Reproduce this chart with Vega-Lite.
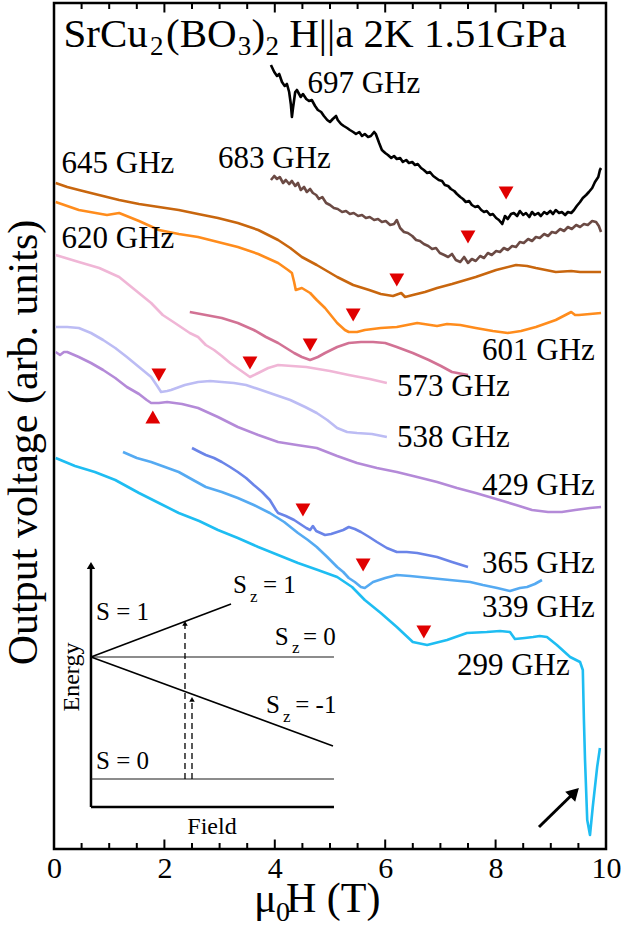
{
  "$schema": "https://vega.github.io/schema/vega-lite/v6.json",
  "width": 552,
  "height": 846,
  "autosize": {"type": "none"},
  "padding": {"left": 54, "top": 3, "right": 16, "bottom": 81},
  "background": "white",
  "config": {
    "view": {"stroke": "black", "strokeWidth": 2.5},
    "font": "Liberation Serif",
    "axis": {"grid": false, "domain": false}
  },
  "datasets": {
    "spec": [
      {"f":"697","B":3.93,"V":78.4},{"f":"697","B":3.99,"V":77.7},{"f":"697","B":4.04,"V":77.3},{"f":"697","B":4.08,"V":77.5},{"f":"697","B":4.13,"V":76.7},{"f":"697","B":4.18,"V":76.3},{"f":"697","B":4.22,"V":76.5},{"f":"697","B":4.26,"V":75.7},{"f":"697","B":4.29,"V":74.5},{"f":"697","B":4.31,"V":73.2},{"f":"697","B":4.33,"V":74.1},{"f":"697","B":4.37,"V":75.7},{"f":"697","B":4.40,"V":75.9},{"f":"697","B":4.44,"V":75.5},{"f":"697","B":4.47,"V":75.2},{"f":"697","B":4.51,"V":75.5},{"f":"697","B":4.57,"V":75.0},{"f":"697","B":4.62,"V":74.8},{"f":"697","B":4.67,"V":74.9},{"f":"697","B":4.73,"V":74.3},{"f":"697","B":4.78,"V":73.9},{"f":"697","B":4.84,"V":73.7},{"f":"697","B":4.89,"V":73.3},{"f":"697","B":4.95,"V":72.9},{"f":"697","B":5.00,"V":72.7},{"f":"697","B":5.05,"V":73.0},{"f":"697","B":5.11,"V":73.3},{"f":"697","B":5.14,"V":72.9},{"f":"697","B":5.20,"V":72.5},{"f":"697","B":5.25,"V":72.3},{"f":"697","B":5.31,"V":72.1},{"f":"697","B":5.36,"V":71.9},{"f":"697","B":5.42,"V":71.7},{"f":"697","B":5.47,"V":71.5},{"f":"697","B":5.53,"V":71.7},{"f":"697","B":5.58,"V":71.3},{"f":"697","B":5.63,"V":71.5},{"f":"697","B":5.69,"V":71.2},{"f":"697","B":5.74,"V":71.3},{"f":"697","B":5.80,"V":71.7},{"f":"697","B":5.83,"V":71.5},{"f":"697","B":5.89,"V":70.6},{"f":"697","B":5.94,"V":69.9},{"f":"697","B":6.00,"V":69.6},{"f":"697","B":6.05,"V":69.4},{"f":"697","B":6.11,"V":69.1},{"f":"697","B":6.16,"V":69.3},{"f":"697","B":6.21,"V":69.0},{"f":"697","B":6.27,"V":69.1},{"f":"697","B":6.32,"V":68.7},{"f":"697","B":6.38,"V":68.9},{"f":"697","B":6.43,"V":68.6},{"f":"697","B":6.49,"V":68.7},{"f":"697","B":6.54,"V":68.4},{"f":"697","B":6.59,"V":68.5},{"f":"697","B":6.65,"V":68.1},{"f":"697","B":6.70,"V":67.9},{"f":"697","B":6.76,"V":67.6},{"f":"697","B":6.81,"V":67.7},{"f":"697","B":6.87,"V":67.3},{"f":"697","B":6.92,"V":67.1},{"f":"697","B":6.97,"V":66.9},{"f":"697","B":7.03,"V":66.8},{"f":"697","B":7.08,"V":66.4},{"f":"697","B":7.14,"V":66.3},{"f":"697","B":7.19,"V":66.0},{"f":"697","B":7.25,"V":65.8},{"f":"697","B":7.30,"V":65.5},{"f":"697","B":7.36,"V":65.2},{"f":"697","B":7.41,"V":65.0},{"f":"697","B":7.46,"V":64.7},{"f":"697","B":7.52,"V":64.8},{"f":"697","B":7.57,"V":64.4},{"f":"697","B":7.63,"V":64.2},{"f":"697","B":7.68,"V":64.3},{"f":"697","B":7.74,"V":63.9},{"f":"697","B":7.79,"V":63.7},{"f":"697","B":7.84,"V":63.8},{"f":"697","B":7.90,"V":63.4},{"f":"697","B":7.95,"V":63.5},{"f":"697","B":8.01,"V":63.1},{"f":"697","B":8.06,"V":62.9},{"f":"697","B":8.12,"V":62.5},{"f":"697","B":8.17,"V":63.3},{"f":"697","B":8.22,"V":63.0},{"f":"697","B":8.28,"V":63.5},{"f":"697","B":8.33,"V":63.6},{"f":"697","B":8.39,"V":63.3},{"f":"697","B":8.44,"V":63.8},{"f":"697","B":8.50,"V":63.4},{"f":"697","B":8.55,"V":63.6},{"f":"697","B":8.61,"V":63.2},{"f":"697","B":8.66,"V":63.7},{"f":"697","B":8.71,"V":63.4},{"f":"697","B":8.77,"V":63.6},{"f":"697","B":8.82,"V":63.3},{"f":"697","B":8.88,"V":63.7},{"f":"697","B":8.93,"V":63.5},{"f":"697","B":8.99,"V":63.8},{"f":"697","B":9.04,"V":63.5},{"f":"697","B":9.09,"V":63.9},{"f":"697","B":9.15,"V":63.6},{"f":"697","B":9.20,"V":63.7},{"f":"697","B":9.26,"V":63.4},{"f":"697","B":9.31,"V":63.7},{"f":"697","B":9.37,"V":63.6},{"f":"697","B":9.42,"V":63.9},{"f":"697","B":9.47,"V":64.3},{"f":"697","B":9.53,"V":64.7},{"f":"697","B":9.58,"V":65.1},{"f":"697","B":9.64,"V":65.4},{"f":"697","B":9.69,"V":65.7},{"f":"697","B":9.75,"V":66.1},{"f":"697","B":9.80,"V":66.7},{"f":"697","B":9.86,"V":67.2},{"f":"697","B":9.89,"V":67.9},{"f":"697","B":9.91,"V":68.1},

      {"f":"683","B":3.93,"V":66.9},{"f":"683","B":3.99,"V":67.3},{"f":"683","B":4.04,"V":67.0},{"f":"683","B":4.09,"V":67.2},{"f":"683","B":4.15,"V":66.6},{"f":"683","B":4.20,"V":66.9},{"f":"683","B":4.26,"V":66.5},{"f":"683","B":4.31,"V":66.8},{"f":"683","B":4.37,"V":66.3},{"f":"683","B":4.42,"V":66.6},{"f":"683","B":4.47,"V":65.9},{"f":"683","B":4.53,"V":66.2},{"f":"683","B":4.58,"V":65.7},{"f":"683","B":4.64,"V":66.0},{"f":"683","B":4.69,"V":65.6},{"f":"683","B":4.75,"V":65.4},{"f":"683","B":4.80,"V":65.0},{"f":"683","B":4.86,"V":65.2},{"f":"683","B":4.93,"V":64.6},{"f":"683","B":5.00,"V":64.4},{"f":"683","B":5.07,"V":64.1},{"f":"683","B":5.14,"V":64.0},{"f":"683","B":5.22,"V":63.7},{"f":"683","B":5.29,"V":63.8},{"f":"683","B":5.36,"V":63.5},{"f":"683","B":5.43,"V":63.6},{"f":"683","B":5.51,"V":63.3},{"f":"683","B":5.58,"V":63.4},{"f":"683","B":5.65,"V":63.1},{"f":"683","B":5.72,"V":63.2},{"f":"683","B":5.80,"V":62.9},{"f":"683","B":5.87,"V":63.0},{"f":"683","B":5.94,"V":62.7},{"f":"683","B":6.01,"V":62.8},{"f":"683","B":6.09,"V":62.4},{"f":"683","B":6.16,"V":62.5},{"f":"683","B":6.21,"V":62.9},{"f":"683","B":6.27,"V":62.1},{"f":"683","B":6.34,"V":61.7},{"f":"683","B":6.41,"V":61.6},{"f":"683","B":6.49,"V":61.3},{"f":"683","B":6.56,"V":60.9},{"f":"683","B":6.63,"V":60.8},{"f":"683","B":6.70,"V":60.5},{"f":"683","B":6.78,"V":60.3},{"f":"683","B":6.85,"V":60.0},{"f":"683","B":6.92,"V":60.1},{"f":"683","B":6.99,"V":59.6},{"f":"683","B":7.07,"V":59.4},{"f":"683","B":7.14,"V":59.2},{"f":"683","B":7.21,"V":59.5},{"f":"683","B":7.28,"V":58.9},{"f":"683","B":7.36,"V":58.7},{"f":"683","B":7.43,"V":59.2},{"f":"683","B":7.50,"V":58.6},{"f":"683","B":7.57,"V":59.0},{"f":"683","B":7.64,"V":58.8},{"f":"683","B":7.72,"V":59.3},{"f":"683","B":7.79,"V":59.1},{"f":"683","B":7.86,"V":59.6},{"f":"683","B":7.93,"V":59.4},{"f":"683","B":8.01,"V":59.8},{"f":"683","B":8.08,"V":59.7},{"f":"683","B":8.15,"V":60.1},{"f":"683","B":8.22,"V":59.9},{"f":"683","B":8.30,"V":60.3},{"f":"683","B":8.37,"V":60.2},{"f":"683","B":8.44,"V":60.7},{"f":"683","B":8.51,"V":60.6},{"f":"683","B":8.59,"V":61.0},{"f":"683","B":8.66,"V":60.8},{"f":"683","B":8.73,"V":61.2},{"f":"683","B":8.80,"V":61.1},{"f":"683","B":8.88,"V":61.5},{"f":"683","B":8.95,"V":61.3},{"f":"683","B":9.02,"V":61.7},{"f":"683","B":9.09,"V":61.6},{"f":"683","B":9.17,"V":62.0},{"f":"683","B":9.24,"V":61.8},{"f":"683","B":9.31,"V":62.2},{"f":"683","B":9.38,"V":62.0},{"f":"683","B":9.46,"V":62.4},{"f":"683","B":9.53,"V":62.2},{"f":"683","B":9.60,"V":62.5},{"f":"683","B":9.67,"V":62.4},{"f":"683","B":9.75,"V":62.8},{"f":"683","B":9.82,"V":62.7},{"f":"683","B":9.87,"V":62.3},{"f":"683","B":9.91,"V":61.7},

      {"f":"645","B":0.03,"V":66.6},{"f":"645","B":0.24,"V":66.2},{"f":"645","B":0.45,"V":65.9},{"f":"645","B":0.74,"V":65.5},{"f":"645","B":1.18,"V":64.9},{"f":"645","B":1.54,"V":64.5},{"f":"645","B":1.90,"V":64.2},{"f":"645","B":2.26,"V":63.9},{"f":"645","B":2.61,"V":63.5},{"f":"645","B":2.97,"V":63.1},{"f":"645","B":3.33,"V":62.6},{"f":"645","B":3.70,"V":61.9},{"f":"645","B":4.06,"V":60.9},{"f":"645","B":4.28,"V":60.1},{"f":"645","B":4.49,"V":59.2},{"f":"645","B":4.76,"V":58.4},{"f":"645","B":5.13,"V":57.2},{"f":"645","B":5.42,"V":56.4},{"f":"645","B":5.71,"V":55.9},{"f":"645","B":5.92,"V":55.5},{"f":"645","B":6.14,"V":55.3},{"f":"645","B":6.29,"V":55.6},{"f":"645","B":6.36,"V":55.2},{"f":"645","B":6.50,"V":55.4},{"f":"645","B":6.72,"V":55.7},{"f":"645","B":6.94,"V":56.1},{"f":"645","B":7.21,"V":56.5},{"f":"645","B":7.64,"V":57.2},{"f":"645","B":8.01,"V":57.9},{"f":"645","B":8.37,"V":58.4},{"f":"645","B":8.57,"V":58.3},{"f":"645","B":8.73,"V":58.1},{"f":"645","B":9.09,"V":57.7},{"f":"645","B":9.37,"V":57.8},{"f":"645","B":9.53,"V":57.7},{"f":"645","B":9.91,"V":57.7},

      {"f":"620","B":0.03,"V":64.7},{"f":"620","B":0.45,"V":63.9},{"f":"620","B":0.96,"V":63.4},{"f":"620","B":1.18,"V":63.6},{"f":"620","B":1.54,"V":62.8},{"f":"620","B":1.90,"V":61.9},{"f":"620","B":2.26,"V":61.5},{"f":"620","B":2.61,"V":61.2},{"f":"620","B":2.97,"V":60.7},{"f":"620","B":3.33,"V":60.2},{"f":"620","B":3.70,"V":59.5},{"f":"620","B":4.06,"V":58.6},{"f":"620","B":4.24,"V":57.9},{"f":"620","B":4.31,"V":57.6},{"f":"620","B":4.35,"V":56.7},{"f":"620","B":4.38,"V":55.9},{"f":"620","B":4.49,"V":56.1},{"f":"620","B":4.64,"V":55.6},{"f":"620","B":4.76,"V":54.9},{"f":"620","B":4.91,"V":54.1},{"f":"620","B":5.13,"V":52.6},{"f":"620","B":5.27,"V":51.9},{"f":"620","B":5.34,"V":51.7},{"f":"620","B":5.49,"V":51.7},{"f":"620","B":5.63,"V":51.9},{"f":"620","B":5.92,"V":52.1},{"f":"620","B":6.21,"V":52.2},{"f":"620","B":6.58,"V":52.6},{"f":"620","B":6.94,"V":52.3},{"f":"620","B":7.12,"V":52.5},{"f":"620","B":7.36,"V":52.4},{"f":"620","B":7.64,"V":52.1},{"f":"620","B":7.95,"V":51.8},{"f":"620","B":8.22,"V":51.6},{"f":"620","B":8.46,"V":51.8},{"f":"620","B":8.73,"V":52.2},{"f":"620","B":9.09,"V":52.9},{"f":"620","B":9.37,"V":53.7},{"f":"620","B":9.44,"V":53.4},{"f":"620","B":9.51,"V":53.4},{"f":"620","B":9.71,"V":53.5},{"f":"620","B":9.91,"V":53.6},

      {"f":"601","B":2.46,"V":53.7},{"f":"601","B":2.75,"V":53.4},{"f":"601","B":3.04,"V":53.1},{"f":"601","B":3.33,"V":52.6},{"f":"601","B":3.62,"V":51.9},{"f":"601","B":3.84,"V":51.2},{"f":"601","B":4.06,"V":50.6},{"f":"601","B":4.35,"V":49.6},{"f":"601","B":4.49,"V":49.2},{"f":"601","B":4.64,"V":48.9},{"f":"601","B":4.78,"V":49.2},{"f":"601","B":4.91,"V":49.6},{"f":"601","B":5.13,"V":50.2},{"f":"601","B":5.34,"V":50.6},{"f":"601","B":5.56,"V":50.7},{"f":"601","B":5.78,"V":50.7},{"f":"601","B":6.00,"V":50.6},{"f":"601","B":6.21,"V":50.2},{"f":"601","B":6.50,"V":49.6},{"f":"601","B":6.79,"V":48.9},{"f":"601","B":7.01,"V":48.3},{"f":"601","B":7.21,"V":47.7},{"f":"601","B":7.50,"V":47.4},

      {"f":"573","B":0.03,"V":59.4},{"f":"573","B":0.45,"V":58.7},{"f":"573","B":0.82,"V":58.1},{"f":"573","B":1.18,"V":57.2},{"f":"573","B":1.47,"V":55.9},{"f":"573","B":1.76,"V":54.6},{"f":"573","B":1.97,"V":53.4},{"f":"573","B":2.19,"V":52.6},{"f":"573","B":2.46,"V":51.6},{"f":"573","B":2.61,"V":51.2},{"f":"573","B":2.75,"V":50.4},{"f":"573","B":2.90,"V":49.9},{"f":"573","B":3.04,"V":49.3},{"f":"573","B":3.19,"V":48.6},{"f":"573","B":3.37,"V":47.9},{"f":"573","B":3.55,"V":47.2},{"f":"573","B":3.70,"V":47.6},{"f":"573","B":3.88,"V":48.1},{"f":"573","B":4.06,"V":48.4},{"f":"573","B":4.31,"V":48.3},{"f":"573","B":4.57,"V":48.2},{"f":"573","B":5.00,"V":47.8},{"f":"573","B":5.34,"V":47.4},{"f":"573","B":5.72,"V":47.0},{"f":"573","B":6.03,"V":46.6},

      {"f":"538","B":0.03,"V":52.2},{"f":"538","B":0.24,"V":52.2},{"f":"538","B":0.45,"V":52.1},{"f":"538","B":0.67,"V":51.6},{"f":"538","B":0.89,"V":50.9},{"f":"538","B":1.11,"V":50.1},{"f":"538","B":1.32,"V":49.2},{"f":"538","B":1.54,"V":48.2},{"f":"538","B":1.76,"V":47.2},{"f":"538","B":1.87,"V":46.3},{"f":"538","B":1.94,"V":45.7},{"f":"538","B":2.05,"V":45.8},{"f":"538","B":2.12,"V":45.9},{"f":"538","B":2.37,"V":46.4},{"f":"538","B":2.61,"V":46.7},{"f":"538","B":2.83,"V":46.8},{"f":"538","B":3.04,"V":46.7},{"f":"538","B":3.26,"V":46.6},{"f":"538","B":3.48,"V":46.4},{"f":"538","B":3.70,"V":46.0},{"f":"538","B":3.91,"V":45.6},{"f":"538","B":4.28,"V":44.9},{"f":"538","B":4.55,"V":44.2},{"f":"538","B":4.76,"V":43.6},{"f":"538","B":4.95,"V":42.9},{"f":"538","B":5.13,"V":42.1},{"f":"538","B":5.31,"V":41.7},{"f":"538","B":5.49,"V":41.6},{"f":"538","B":5.76,"V":41.5},{"f":"538","B":6.03,"V":41.2},

      {"f":"429","B":0.03,"V":49.7},{"f":"429","B":0.11,"V":49.4},{"f":"429","B":0.18,"V":49.7},{"f":"429","B":0.24,"V":49.7},{"f":"429","B":0.45,"V":49.2},{"f":"429","B":0.67,"V":48.6},{"f":"429","B":0.89,"V":47.9},{"f":"429","B":1.11,"V":47.1},{"f":"429","B":1.32,"V":46.2},{"f":"429","B":1.54,"V":45.5},{"f":"429","B":1.68,"V":44.9},{"f":"429","B":1.76,"V":44.6},{"f":"429","B":1.90,"V":44.6},{"f":"429","B":2.05,"V":44.7},{"f":"429","B":2.32,"V":44.5},{"f":"429","B":2.61,"V":44.1},{"f":"429","B":2.97,"V":43.2},{"f":"429","B":3.33,"V":42.2},{"f":"429","B":3.70,"V":41.4},{"f":"429","B":4.06,"V":40.7},{"f":"429","B":4.40,"V":40.4},{"f":"429","B":4.76,"V":40.1},{"f":"429","B":5.13,"V":39.3},{"f":"429","B":5.49,"V":38.6},{"f":"429","B":5.85,"V":38.1},{"f":"429","B":6.21,"V":37.7},{"f":"429","B":6.58,"V":37.2},{"f":"429","B":6.94,"V":36.7},{"f":"429","B":7.30,"V":36.1},{"f":"429","B":7.64,"V":35.6},{"f":"429","B":8.01,"V":35.0},{"f":"429","B":8.37,"V":34.4},{"f":"429","B":8.66,"V":33.9},{"f":"429","B":8.95,"V":33.7},{"f":"429","B":9.20,"V":33.7},{"f":"429","B":9.44,"V":33.9},{"f":"429","B":9.71,"V":34.1},{"f":"429","B":9.91,"V":34.2},

      {"f":"365","B":2.50,"V":40.1},{"f":"365","B":2.64,"V":39.7},{"f":"365","B":2.75,"V":39.4},{"f":"365","B":2.90,"V":39.1},{"f":"365","B":3.04,"V":38.7},{"f":"365","B":3.19,"V":38.2},{"f":"365","B":3.33,"V":37.7},{"f":"365","B":3.48,"V":37.1},{"f":"365","B":3.62,"V":36.4},{"f":"365","B":3.77,"V":35.7},{"f":"365","B":3.91,"V":34.9},{"f":"365","B":4.02,"V":33.9},{"f":"365","B":4.06,"V":33.6},{"f":"365","B":4.20,"V":33.3},{"f":"365","B":4.35,"V":32.9},{"f":"365","B":4.46,"V":32.5},{"f":"365","B":4.57,"V":32.1},{"f":"365","B":4.64,"V":31.9},{"f":"365","B":4.69,"V":32.3},{"f":"365","B":4.75,"V":31.8},{"f":"365","B":4.91,"V":31.4},{"f":"365","B":5.02,"V":31.5},{"f":"365","B":5.13,"V":31.7},{"f":"365","B":5.24,"V":31.9},{"f":"365","B":5.34,"V":32.2},{"f":"365","B":5.45,"V":32.0},{"f":"365","B":5.56,"V":31.7},{"f":"365","B":5.71,"V":31.2},{"f":"365","B":5.85,"V":30.7},{"f":"365","B":6.03,"V":30.1},{"f":"365","B":6.21,"V":29.7},{"f":"365","B":6.39,"V":29.7},{"f":"365","B":6.58,"V":29.6},{"f":"365","B":6.76,"V":29.4},{"f":"365","B":6.94,"V":29.2},{"f":"365","B":7.21,"V":28.7},{"f":"365","B":7.50,"V":28.2},

      {"f":"339","B":1.25,"V":39.7},{"f":"339","B":1.50,"V":39.1},{"f":"339","B":1.76,"V":38.7},{"f":"339","B":2.01,"V":38.2},{"f":"339","B":2.26,"V":37.7},{"f":"339","B":2.52,"V":36.9},{"f":"339","B":2.75,"V":36.2},{"f":"339","B":3.04,"V":35.7},{"f":"339","B":3.33,"V":35.1},{"f":"339","B":3.62,"V":34.4},{"f":"339","B":3.91,"V":33.6},{"f":"339","B":4.17,"V":32.7},{"f":"339","B":4.42,"V":31.6},{"f":"339","B":4.60,"V":30.9},{"f":"339","B":4.76,"V":30.2},{"f":"339","B":4.95,"V":29.2},{"f":"339","B":5.13,"V":28.2},{"f":"339","B":5.24,"V":27.7},{"f":"339","B":5.34,"V":27.1},{"f":"339","B":5.45,"V":26.7},{"f":"339","B":5.56,"V":26.2},{"f":"339","B":5.63,"V":26.1},{"f":"339","B":5.78,"V":26.7},{"f":"339","B":6.00,"V":27.1},{"f":"339","B":6.21,"V":27.4},{"f":"339","B":6.45,"V":27.3},{"f":"339","B":6.81,"V":27.1},{"f":"339","B":7.17,"V":26.9},{"f":"339","B":7.54,"V":26.7},{"f":"339","B":7.77,"V":26.4},{"f":"339","B":8.03,"V":26.1},{"f":"339","B":8.26,"V":25.8},{"f":"339","B":8.44,"V":26.1},{"f":"339","B":8.57,"V":26.2},{"f":"339","B":8.71,"V":26.5},{"f":"339","B":8.84,"V":26.9},

      {"f":"299","B":0.03,"V":39.1},{"f":"299","B":0.38,"V":38.3},{"f":"299","B":0.74,"V":37.7},{"f":"299","B":1.11,"V":36.9},{"f":"299","B":1.54,"V":35.6},{"f":"299","B":1.90,"V":34.6},{"f":"299","B":2.26,"V":33.6},{"f":"299","B":2.63,"V":32.8},{"f":"299","B":2.97,"V":31.9},{"f":"299","B":3.33,"V":31.1},{"f":"299","B":3.70,"V":30.2},{"f":"299","B":4.06,"V":29.4},{"f":"299","B":4.42,"V":28.6},{"f":"299","B":4.78,"V":27.9},{"f":"299","B":5.13,"V":27.2},{"f":"299","B":5.40,"V":26.2},{"f":"299","B":5.63,"V":24.9},{"f":"299","B":5.92,"V":23.6},{"f":"299","B":6.21,"V":22.2},{"f":"299","B":6.50,"V":20.7},{"f":"299","B":6.76,"V":20.4},{"f":"299","B":7.12,"V":20.9},{"f":"299","B":7.48,"V":21.6},{"f":"299","B":7.84,"V":21.7},{"f":"299","B":8.08,"V":21.8},{"f":"299","B":8.26,"V":21.7},{"f":"299","B":8.35,"V":21.0},{"f":"299","B":8.53,"V":21.1},{"f":"299","B":8.68,"V":21.2},{"f":"299","B":8.80,"V":21.3},{"f":"299","B":8.93,"V":21.2},{"f":"299","B":9.11,"V":20.4},{"f":"299","B":9.35,"V":19.2},{"f":"299","B":9.53,"V":18.7},{"f":"299","B":9.58,"V":17.9},{"f":"299","B":9.60,"V":12.9},{"f":"299","B":9.62,"V":8.9},{"f":"299","B":9.66,"V":2.9},{"f":"299","B":9.71,"V":1.4},{"f":"299","B":9.76,"V":4.2},{"f":"299","B":9.84,"V":8.2},{"f":"299","B":9.89,"V":10.1}
    ],
    "tri": [
      {"B":8.19,"V":65.6,"dir":"down"},{"B":7.50,"V":61.2,"dir":"down"},{"B":6.21,"V":56.9,"dir":"down"},{"B":5.42,"V":53.4,"dir":"down"},{"B":4.64,"V":50.4,"dir":"down"},{"B":3.55,"V":48.6,"dir":"down"},{"B":1.90,"V":47.4,"dir":"down"},{"B":1.79,"V":43.2,"dir":"up"},{"B":4.51,"V":33.9,"dir":"down"},{"B":5.60,"V":28.4,"dir":"down"},{"B":6.70,"V":21.7,"dir":"down"}
    ],
    "labels": [
      {"B":4.592,"V":75.6,"t":"697 GHz"},{"B":2.971,"V":68.1,"t":"683 GHz"},{"B":0.136,"V":67.6,"t":"645 GHz"},{"B":0.136,"V":60.1,"t":"620 GHz"},{"B":7.754,"V":48.9,"t":"601 GHz"},{"B":6.214,"V":45.3,"t":"573 GHz"},{"B":6.214,"V":40.2,"t":"538 GHz"},{"B":7.754,"V":35.4,"t":"429 GHz"},{"B":7.754,"V":27.6,"t":"365 GHz"},{"B":7.754,"V":23.2,"t":"339 GHz"},{"B":7.30,"V":17.4,"t":"299 GHz"}
    ],
    "titleMain": [
      {"B":0.172,"V":80.2,"t":"SrCu"},{"B":2.03,"V":80.2,"t":"(BO"},{"B":3.58,"V":80.2,"t":")"},{"B":4.26,"V":80.2,"t":"H||a 2K 1.51GPa"}
    ],
    "titleSub": [
      {"B":1.74,"V":79.4,"t":"2"},{"B":3.33,"V":79.4,"t":"3"},{"B":3.83,"V":79.4,"t":"2"}
    ],
    "xtitleMain": [
      {"B":3.623,"V":-6.3,"t":"μ"},{"B":4.203,"V":-6.3,"t":"H (T)"}
    ],
    "xtitleSub": [
      {"B":4.022,"V":-7.2,"t":"0"}
    ],
    "majorTicks": [{"B":2},{"B":4},{"B":6},{"B":8}],
    "minorTicks": [{"B":0.5},{"B":1},{"B":1.5},{"B":2.5},{"B":3},{"B":3.5},{"B":4.5},{"B":5},{"B":5.5},{"B":6.5},{"B":7},{"B":7.5},{"B":8.5},{"B":9},{"B":9.5}],
    "insetAxes": [
      {"B":0.670,"V":4.2,"B2":0.670,"V2":28.3},
      {"B":0.670,"V":4.2,"B2":5.072,"V2":4.2}
    ],
    "levels": [
      {"B":0.670,"V":7.0,"B2":5.072,"V2":7.0},
      {"B":0.670,"V":19.2,"B2":5.072,"V2":19.2}
    ],
    "zeeman": [
      {"B":0.670,"V":19.2,"B2":3.207,"V2":24.5},
      {"B":0.670,"V":19.2,"B2":5.054,"V2":10.3}
    ],
    "dashed": [
      {"B":2.373,"V":7.0,"B2":2.373,"V2":22.4},
      {"B":2.500,"V":7.0,"B2":2.500,"V2":14.8}
    ],
    "smallHeads": [
      {"B":2.373,"V":22.56},{"B":2.500,"V":14.96}
    ],
    "axisHead": [
      {"B":0.670,"V":28.35}
    ],
    "bigArrow": [
      {"B":8.786,"V":2.2,"B2":9.43,"V2":5.67}
    ],
    "insetMain": [
      {"B":0.761,"V":22.9,"t":"S = 1"},{"B":0.761,"V":8.0,"t":"S = 0"},
      {"B":3.243,"V":25.6,"t":"S"},{"B":3.786,"V":25.6,"t":"= 1"},
      {"B":4.00,"V":20.4,"t":"S"},{"B":4.51,"V":20.4,"t":"= 0"},
      {"B":3.84,"V":13.6,"t":"S"},{"B":4.37,"V":13.6,"t":"= -1"}
    ],
    "insetSub": [
      {"B":3.551,"V":24.7,"t":"z"},{"B":4.31,"V":19.6,"t":"z"},{"B":4.15,"V":12.7,"t":"z"}
    ]
  },
  "layer": [
    {
      "data": {"name": "spec"},
      "mark": {"type": "line", "strokeWidth": 2.6, "strokeJoin": "round", "interpolate": "linear"},
      "encoding": {
        "x": {
          "field": "B", "type": "quantitative",
          "scale": {"domain": [0, 10], "nice": false, "zero": false},
          "axis": {
            "orient": "bottom", "title": null,
            "values": [0, 2, 4, 6, 8, 10], "format": "d",
            "ticks": false,
            "labelFont": "Liberation Serif", "labelFontSize": 30, "labelColor": "black",
            "labelPadding": 4, "labelFlush": false, "labelOverlap": false
          }
        },
        "y": {
          "field": "V", "type": "quantitative",
          "scale": {"domain": [0, 84.6], "nice": false, "zero": false},
          "axis": {
            "title": "Output voltage (arb. units)", "labels": false, "ticks": false, "domain": false,
            "titleFont": "Liberation Serif", "titleFontSize": 42, "titleFontWeight": "normal",
            "titleColor": "black", "titlePadding": 9, "titleY": 439
          }
        },
        "color": {
          "field": "f", "type": "nominal", "legend": null,
          "scale": {
            "domain": ["697","683","645","620","601","573","538","429","365","339","299"],
            "range": ["#000000","#6b4a44","#c8660e","#ff8c1c","#d27294","#f0b6d6","#bcbcf4","#b48ad8","#6a84e8","#55aaf2","#1ebdf2"]
          }
        },
        "detail": {"field": "f"}
      }
    },
    {
      "data": {"name": "insetAxes"},
      "mark": {"type": "rule", "color": "black", "strokeWidth": 2.5},
      "encoding": {
        "x": {"field": "B", "type": "quantitative", "axis": null},
        "y": {"field": "V", "type": "quantitative", "axis": null},
        "x2": {"field": "B2"},
        "y2": {"field": "V2"}
      }
    },
    {
      "data": {"name": "levels"},
      "mark": {"type": "rule", "color": "#1a1a1a", "strokeWidth": 1.2},
      "encoding": {
        "x": {"field": "B", "type": "quantitative", "axis": null},
        "y": {"field": "V", "type": "quantitative", "axis": null},
        "x2": {"field": "B2"},
        "y2": {"field": "V2"}
      }
    },
    {
      "data": {"name": "zeeman"},
      "mark": {"type": "rule", "color": "black", "strokeWidth": 1.6},
      "encoding": {
        "x": {"field": "B", "type": "quantitative", "axis": null},
        "y": {"field": "V", "type": "quantitative", "axis": null},
        "x2": {"field": "B2"},
        "y2": {"field": "V2"}
      }
    },
    {
      "data": {"name": "dashed"},
      "mark": {"type": "rule", "color": "black", "strokeWidth": 1.3, "strokeDash": [6, 4]},
      "encoding": {
        "x": {"field": "B", "type": "quantitative", "axis": null},
        "y": {"field": "V", "type": "quantitative", "axis": null},
        "x2": {"field": "B2"},
        "y2": {"field": "V2"}
      }
    },
    {
      "data": {"name": "smallHeads"},
      "mark": {"type": "point", "shape": "triangle-up", "filled": true, "color": "black", "size": 30, "opacity": 1},
      "encoding": {
        "x": {"field": "B", "type": "quantitative", "axis": null},
        "y": {"field": "V", "type": "quantitative", "axis": null}
      }
    },
    {
      "data": {"name": "axisHead"},
      "mark": {"type": "point", "shape": "triangle-up", "filled": true, "color": "black", "size": 70, "opacity": 1},
      "encoding": {
        "x": {"field": "B", "type": "quantitative", "axis": null},
        "y": {"field": "V", "type": "quantitative", "axis": null}
      }
    },
    {
      "data": {"name": "insetMain"},
      "mark": {"type": "text", "font": "Liberation Serif", "fontSize": 25, "align": "left", "baseline": "alphabetic", "color": "black"},
      "encoding": {
        "x": {"field": "B", "type": "quantitative", "axis": null},
        "y": {"field": "V", "type": "quantitative", "axis": null},
        "text": {"field": "t"}
      }
    },
    {
      "data": {"name": "insetSub"},
      "mark": {"type": "text", "font": "Liberation Serif", "fontSize": 17, "align": "left", "baseline": "alphabetic", "color": "black"},
      "encoding": {
        "x": {"field": "B", "type": "quantitative", "axis": null},
        "y": {"field": "V", "type": "quantitative", "axis": null},
        "text": {"field": "t"}
      }
    },
    {
      "data": {"values": [{"B": 0.326, "V": 17.2, "t": "Energy"}]},
      "mark": {"type": "text", "font": "Liberation Serif", "fontSize": 24, "angle": 270, "align": "center", "baseline": "middle", "color": "black"},
      "encoding": {
        "x": {"field": "B", "type": "quantitative", "axis": null},
        "y": {"field": "V", "type": "quantitative", "axis": null},
        "text": {"field": "t"}
      }
    },
    {
      "data": {"values": [{"B": 2.862, "V": 2.2, "t": "Field"}]},
      "mark": {"type": "text", "font": "Liberation Serif", "fontSize": 24, "align": "center", "baseline": "middle", "color": "black"},
      "encoding": {
        "x": {"field": "B", "type": "quantitative", "axis": null},
        "y": {"field": "V", "type": "quantitative", "axis": null},
        "text": {"field": "t"}
      }
    },
    {
      "data": {"name": "majorTicks"},
      "mark": {"type": "rule", "color": "black", "strokeWidth": 2},
      "encoding": {
        "x": {"field": "B", "type": "quantitative", "axis": null},
        "y": {"datum": 0, "type": "quantitative", "axis": null},
        "y2": {"datum": 0.95}
      }
    },
    {
      "data": {"name": "minorTicks"},
      "mark": {"type": "rule", "color": "black", "strokeWidth": 2},
      "encoding": {
        "x": {"field": "B", "type": "quantitative", "axis": null},
        "y": {"datum": 0, "type": "quantitative", "axis": null},
        "y2": {"datum": 0.6}
      }
    },
    {
      "data": {"name": "majorTicks"},
      "mark": {"type": "rule", "color": "black", "strokeWidth": 2},
      "encoding": {
        "x": {"field": "B", "type": "quantitative", "axis": null},
        "y": {"datum": 84.6, "type": "quantitative", "axis": null},
        "y2": {"datum": 83.65}
      }
    },
    {
      "data": {"name": "minorTicks"},
      "mark": {"type": "rule", "color": "black", "strokeWidth": 2},
      "encoding": {
        "x": {"field": "B", "type": "quantitative", "axis": null},
        "y": {"datum": 84.6, "type": "quantitative", "axis": null},
        "y2": {"datum": 84.0}
      }
    },
    {
      "data": {"name": "tri"},
      "mark": {"type": "point", "filled": true, "color": "#e00000", "size": 220, "opacity": 1},
      "encoding": {
        "x": {"field": "B", "type": "quantitative", "axis": null},
        "y": {"field": "V", "type": "quantitative", "axis": null},
        "shape": {"field": "dir", "type": "nominal", "legend": null, "scale": {"domain": ["down", "up"], "range": ["triangle-down", "triangle-up"]}}
      }
    },
    {
      "data": {"name": "bigArrow"},
      "mark": {"type": "rule", "color": "black", "strokeWidth": 3},
      "encoding": {
        "x": {"field": "B", "type": "quantitative", "axis": null},
        "y": {"field": "V", "type": "quantitative", "axis": null},
        "x2": {"field": "B2"},
        "y2": {"field": "V2"}
      }
    },
    {
      "data": {"values": [{"B": 9.43, "V": 5.67}]},
      "mark": {"type": "point", "shape": "triangle-up", "angle": 45, "filled": true, "color": "black", "size": 200, "opacity": 1},
      "encoding": {
        "x": {"field": "B", "type": "quantitative", "axis": null},
        "y": {"field": "V", "type": "quantitative", "axis": null}
      }
    },
    {
      "data": {"name": "labels"},
      "mark": {"type": "text", "font": "Liberation Serif", "fontSize": 31, "align": "left", "baseline": "alphabetic", "color": "black"},
      "encoding": {
        "x": {"field": "B", "type": "quantitative", "axis": null},
        "y": {"field": "V", "type": "quantitative", "axis": null},
        "text": {"field": "t"}
      }
    },
    {
      "data": {"name": "titleMain"},
      "mark": {"type": "text", "font": "Liberation Serif", "fontSize": 41, "align": "left", "baseline": "alphabetic", "color": "black"},
      "encoding": {
        "x": {"field": "B", "type": "quantitative", "axis": null},
        "y": {"field": "V", "type": "quantitative", "axis": null},
        "text": {"field": "t"}
      }
    },
    {
      "data": {"name": "titleSub"},
      "mark": {"type": "text", "font": "Liberation Serif", "fontSize": 27, "align": "left", "baseline": "alphabetic", "color": "black"},
      "encoding": {
        "x": {"field": "B", "type": "quantitative", "axis": null},
        "y": {"field": "V", "type": "quantitative", "axis": null},
        "text": {"field": "t"}
      }
    },
    {
      "data": {"name": "xtitleMain"},
      "mark": {"type": "text", "font": "Liberation Serif", "fontSize": 42, "align": "left", "baseline": "alphabetic", "color": "black"},
      "encoding": {
        "x": {"field": "B", "type": "quantitative", "axis": null},
        "y": {"field": "V", "type": "quantitative", "axis": null},
        "text": {"field": "t"}
      }
    },
    {
      "data": {"name": "xtitleSub"},
      "mark": {"type": "text", "font": "Liberation Serif", "fontSize": 28, "align": "left", "baseline": "alphabetic", "color": "black"},
      "encoding": {
        "x": {"field": "B", "type": "quantitative", "axis": null},
        "y": {"field": "V", "type": "quantitative", "axis": null},
        "text": {"field": "t"}
      }
    }
  ],
  "resolve": {"axis": {"x": "independent", "y": "independent"}}
}
